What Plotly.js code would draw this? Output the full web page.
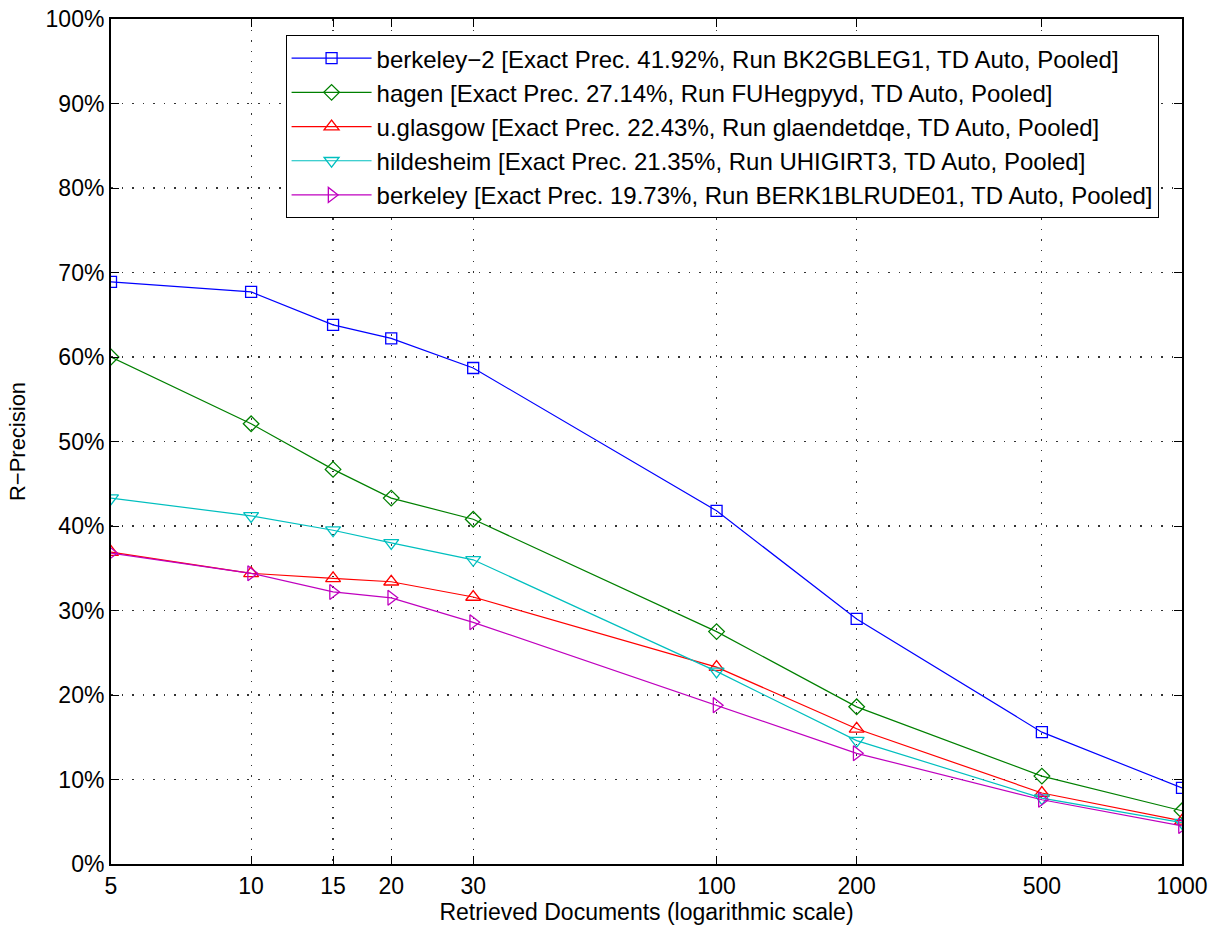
<!DOCTYPE html>
<html>
<head>
<meta charset="utf-8">
<script src="https://cdn.plot.ly/plotly-3.0.1.min.js"></script>
<style>html,body{margin:0;padding:0;background:#fff;}#chart{width:1215px;height:928px;}</style>
</head>
<body>
<div id="chart"></div>
<script>
const docs = [5, 10, 15, 20, 30, 100, 200, 500, 1000];
const tickLabels = ['5', '10', '15', '20', '30', '100', '200', '500', '1000'];
const yTicks = [0, 10, 20, 30, 40, 50, 60, 70, 80, 90, 100];
const yTickLabels = ['0%', '10%', '20%', '30%', '40%', '50%', '60%', '70%', '80%', '90%', '100%'];

const seriesNames = [
  'berkeley\u22122 [Exact Prec. 41.92%, Run BK2GBLEG1, TD Auto, Pooled]',
  'hagen [Exact Prec. 27.14%, Run FUHegpyyd, TD Auto, Pooled]',
  'u.glasgow [Exact Prec. 22.43%, Run glaendetdqe, TD Auto, Pooled]',
  'hildesheim [Exact Prec. 21.35%, Run UHIGIRT3, TD Auto, Pooled]',
  'berkeley [Exact Prec. 19.73%, Run BERK1BLRUDE01, TD Auto, Pooled]'
];
const berkeley2 = [68.9, 67.7, 63.8, 62.2, 58.7, 41.8, 29.0, 15.6, 9.0];
const hagen     = [60.0, 52.1, 46.7, 43.3, 40.8, 27.5, 18.6, 10.4, 6.3];
const glasgow   = [36.9, 34.4, 33.8, 33.4, 31.6, 23.3, 16.0, 8.4, 5.1];
const hildesheim= [43.3, 41.2, 39.5, 38.0, 36.0, 22.8, 14.6, 7.8, 4.9];
const berkeley  = [36.8, 34.4, 32.2, 31.5, 28.6, 18.8, 13.1, 7.6, 4.5];

const seriesValues = [berkeley2, hagen, glasgow, hildesheim, berkeley];
const colors = ['#0000ff', '#008000', '#ff0000', '#00bfbf', '#bf00bf'];
const symbols = ['square-open', 'diamond-open', 'triangle-up-open', 'triangle-down-open', 'triangle-right-open'];
const sizes = [11, 12, 13, 13, 13];

const font = 'Liberation Sans, Arial, Helvetica, sans-serif';

const traces = seriesValues.map((vals, i) => ({
  x: docs,
  y: vals,
  name: seriesNames[i],
  type: 'scatter',
  mode: 'lines+markers',
  line: {color: colors[i], width: 1.2},
  marker: {symbol: symbols[i], size: sizes[i], color: colors[i], line: {color: colors[i], width: 1.3}}
}));

const gridStyle = {showgrid: true, gridcolor: '#333', griddash: '1.5px,9px', gridwidth: 1.2};

const layout = {
  width: 1215,
  height: 928,
  paper_bgcolor: '#ffffff',
  plot_bgcolor: '#ffffff',
  margin: {l: 111, r: 33, t: 19, b: 64},
  font: {family: font, size: 23, color: '#000'},
  showlegend: true,
  legend: {
    x: 0.163, y: 0.981, xanchor: 'left', yanchor: 'top',
    bgcolor: '#ffffff', bordercolor: '#000', borderwidth: 1,
    font: {family: font, size: 24, color: '#000'},
    itemwidth: 80,
    tracegroupgap: 0
  },
  xaxis: Object.assign({
    type: 'log',
    range: [Math.log10(5), Math.log10(1000)],
    tickvals: docs,
    ticktext: tickLabels,
    ticks: 'inside', ticklen: 8, tickcolor: '#000', tickwidth: 1,
    showline: true, linecolor: '#000', linewidth: 2, mirror: 'allticks',
    zeroline: false,
    tickfont: {family: font, size: 23, color: '#000'},
    title: {text: 'Retrieved Documents (logarithmic scale)', font: {family: font, size: 23, color: '#000'}, standoff: 4}
  }, gridStyle),
  yaxis: Object.assign({
    range: [0, 100],
    tickvals: yTicks,
    ticktext: yTickLabels,
    ticks: 'inside', ticklen: 8, tickcolor: '#000', tickwidth: 1,
    showline: true, linecolor: '#000', linewidth: 2, mirror: 'allticks',
    zeroline: false,
    tickfont: {family: font, size: 23, color: '#000'},
    title: {text: 'R\u2212Precision', font: {family: font, size: 22, color: '#000'}, standoff: 14}
  }, gridStyle)
};

Plotly.newPlot('chart', traces, layout, {displayModeBar: false, staticPlot: true});
</script>
</body>
</html>
